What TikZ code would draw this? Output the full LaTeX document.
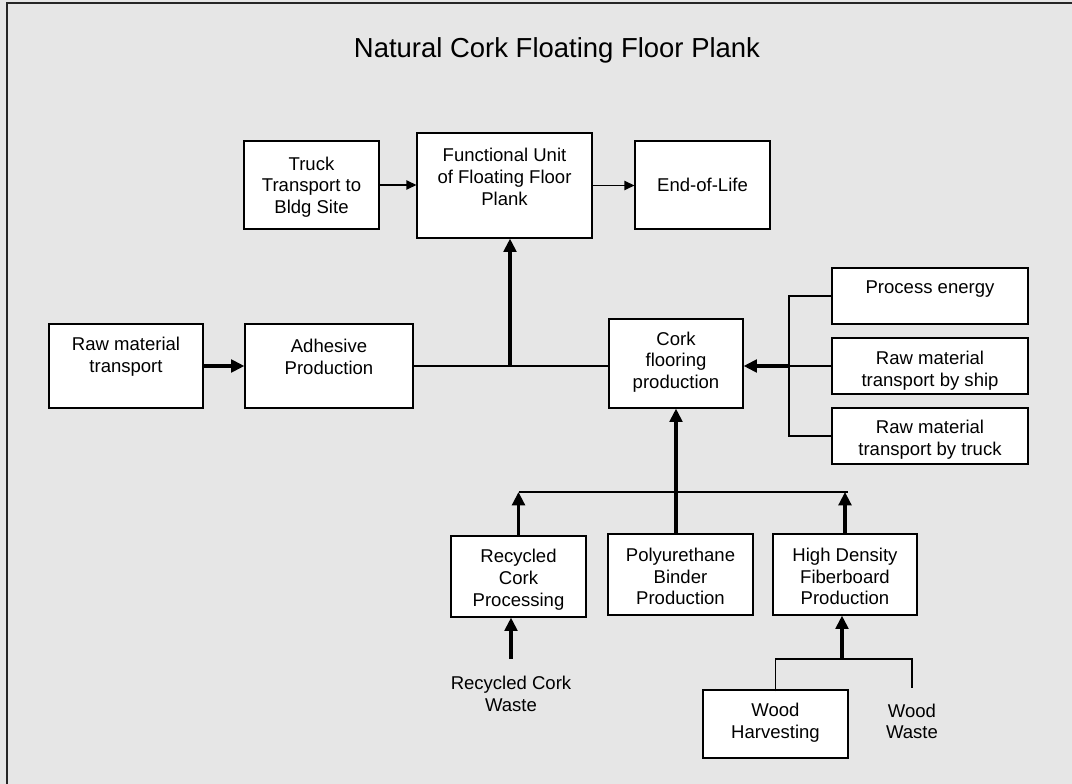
\documentclass[tikz,border=0pt]{standalone}
\usepackage{fontspec}
\setmainfont{Liberation Sans}
\usetikzlibrary{arrows.meta}
\definecolor{bg}{HTML}{E6E6E6}
\begin{document}
\begin{tikzpicture}[x=0.75pt,y=-0.75pt,
  box/.style={draw=black, line width=0.9pt, fill=white, inner sep=0pt},
  wh/.style 2 args={minimum width=#1*0.75pt, minimum height=#2*0.75pt},
  txt/.style={align=center, font=\fontsize{13.9}{16.3}\selectfont, inner sep=0pt},
  fine/.style={line width=1pt},
  finearrow/.style={line width=1pt, -{Triangle[length=7.5pt,width=7pt]}},
  heavyarrow/.style={line width=2.4pt, -{Triangle[length=10pt,width=9.5pt]}}]
\useasboundingbox (0,0) rectangle (1072,784);
\fill[bg] (0,0) rectangle (1072,784);
\draw[line width=1.1pt, draw=black!85] (7,800) -- (7,3) -- (1090,3);

\node[font=\fontsize{20.6}{24}\selectfont, anchor=base, inner sep=0pt] (title) at (557,58) {Natural Cork Floating Floor Plank};

% top row
\node[box,wh={135}{88}] (truck) at (311.5,185) {};
\node[txt] (truckt) at (311.5,187) {Truck\\Transport to\\Bldg Site};
\node[box,wh={175}{105}] (fu) at (504.5,185.5) {};
\node[txt] (fut) at (504.5,177) {Functional Unit\\of Floating Floor\\Plank};
\node[box,wh={135}{88}] (eol) at (702.5,185) {};
\node[txt] (eolt) at (702.5,185) {End-of-Life};

% middle row
\node[box,wh={154}{84}] (raw) at (126,366) {};
\node[txt] (rawt) at (126,356.5) {Raw material\\transport};
\node[box,wh={168}{84}] (adh) at (329,366) {};
\node[txt] (adht) at (329,357) {Adhesive\\Production};
\node[box,wh={134}{89}] (cork) at (676,363.5) {};
\node[txt] (corkt) at (676,362) {Cork\\flooring\\production};
\node[box,wh={196}{56}] (pe) at (930,296) {};
\node[txt] (pet) at (930,289) {Process energy};
\node[box,wh={196}{56}] (ship) at (930,366) {};
\node[txt] (shipt) at (930,370.5) {Raw material\\transport by ship};
\node[box,wh={196}{56}] (trk) at (930,436) {};
\node[txt] (trkt) at (930,440) {Raw material\\transport by truck};

% lower rows
\node[box,wh={135}{81}] (rcp) at (518.5,576.5) {};
\node[txt] (rcpt) at (518.5,579.5) {Recycled\\Cork\\Processing};
\node[box,wh={145}{81}] (poly) at (680.5,574.5) {};
\node[txt] (polyt) at (680.5,576.5) {Polyurethane\\Binder\\Production};
\node[box,wh={144}{81}] (hdf) at (845,574.5) {};
\node[txt] (hdft) at (845,576.5) {High Density\\Fiberboard\\Production};
\node[box,wh={145}{68}] (wh) at (775.5,724) {};
\node[txt] (wht) at (775.5,723) {Wood\\Harvesting};
\node[txt] (rcw) at (511,694) {Recycled Cork\\Waste};
\node[txt] (ww) at (912,721.5) {Wood\\Waste};

% junction coordinates
\coordinate (j1) at (510,366);
\coordinate (bkx) at (789,0);
\coordinate (hl) at (0,492);
\coordinate (rcwtop) at (511,659);
\coordinate (wb) at (842,659);
\coordinate (wwt) at (912,688);

% connectors
\draw[finearrow] (truck.east) -- (truck.east -| fu.west);
\draw[finearrow] (fu.east) -- (fu.east -| eol.west);
\draw[heavyarrow] (raw.east) -- (adh.west);
\draw[fine] (adh.east) -- (adh.east -| cork.west);
\draw[heavyarrow] (j1) -- (j1 |- fu.south);
\draw[fine] (pe.west) -- (pe.west -| bkx) -- (trk.west -| bkx) -- (trk.west);
\draw[fine] (ship.west) -- (ship.west -| bkx);
\draw[heavyarrow] (ship.west -| bkx) -- (ship.west -| cork.east);
\draw[fine] (rcp.north |- hl) -- ([xshift=2pt]hdf.north |- hl);
\draw[heavyarrow] (rcp.north) -- (rcp.north |- hl);
\draw[heavyarrow] (hdf.north) -- (hdf.north |- hl);
\draw[heavyarrow] (poly.north -| cork.south) -- (cork.south);
\draw[heavyarrow] (rcwtop) -- (rcwtop |- rcp.south);
\draw[fine] ([yshift=-1.5pt]wh.north) |- (wb) -| (wwt);
\draw[heavyarrow] (wb) -- (wb |- hdf.south);
\end{tikzpicture}
\end{document}
